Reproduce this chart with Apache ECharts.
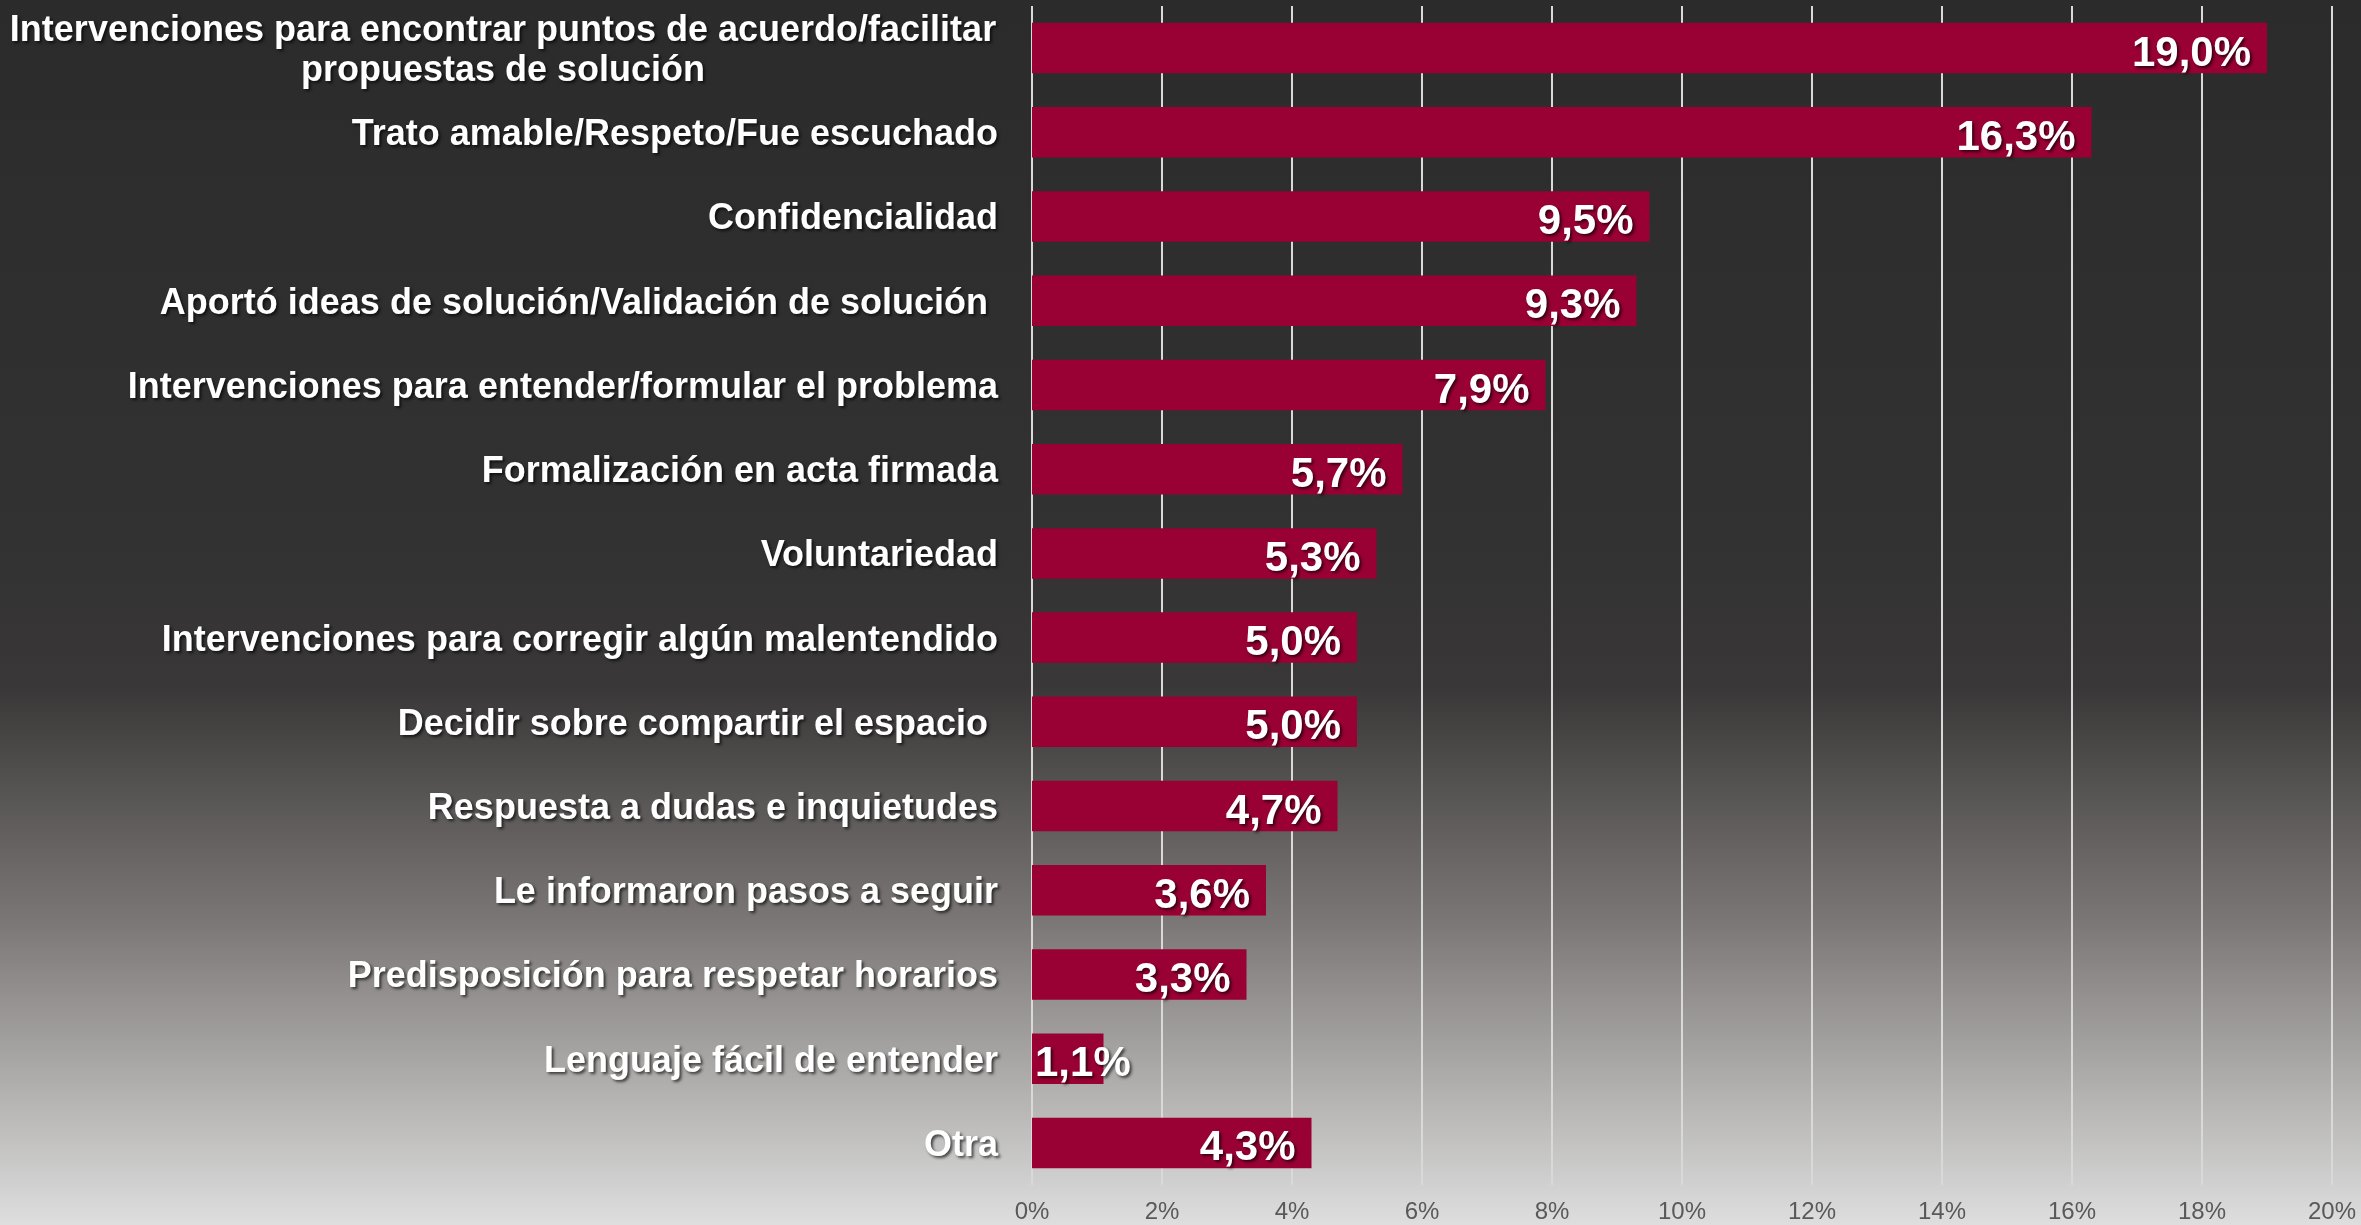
<!DOCTYPE html>
<html>
<head>
<meta charset="utf-8">
<script src="https://cdn.jsdelivr.net/npm/echarts@6/dist/echarts.min.js"></script>
<style>
html,body{margin:0;padding:0;width:2361px;height:1225px;overflow:hidden;}
#chart{width:2361px;height:1225px;}
</style>
</head>
<body>
<div id="chart"></div>
<script>
const categories = [
  'Intervenciones para encontrar puntos de acuerdo/facilitar\npropuestas de solución',
  'Trato amable/Respeto/Fue escuchado',
  'Confidencialidad',
  'Aportó ideas de solución/Validación de solución ',
  'Intervenciones para entender/formular el problema',
  'Formalización en acta firmada',
  'Voluntariedad',
  'Intervenciones para corregir algún malentendido',
  'Decidir sobre compartir el espacio ',
  'Respuesta a dudas e inquietudes',
  'Le informaron pasos a seguir',
  'Predisposición para respetar horarios',
  'Lenguaje fácil de entender',
  'Otra'
];
const values = [19.0, 16.3, 9.5, 9.3, 7.9, 5.7, 5.3, 5.0, 5.0, 4.7, 3.6, 3.3, 1.1, 4.3];
const tickMin = 0, tickMax = 20, tickStep = 2;

const FONT = '"Liberation Sans", Arial, sans-serif';
const shadow = {textShadowColor:'rgba(0,0,0,0.65)', textShadowBlur:3, textShadowOffsetX:2, textShadowOffsetY:2};

const chart = echarts.init(document.getElementById('chart'));
const seriesData = values.map(v => {
  const item = {value: v};
  if (v < 2) {
    item.label = {position: 'insideLeft', distance: 3};
  }
  return item;
});

chart.setOption({
  backgroundColor: {
    type: 'linear', x: 0, y: 0, x2: 0, y2: 1,
    colorStops: [
      {offset: 0, color: '#2b2b2b'},
      {offset: 0.45, color: '#333232'},
      {offset: 0.56, color: '#393737'},
      {offset: 0.75, color: '#7a7675'},
      {offset: 0.86, color: '#a6a4a3'},
      {offset: 1, color: '#dedede'}
    ]
  },
  animation: false,
  grid: {left: 1032, right: 29, top: 6, bottom: 40, containLabel: false},
  xAxis: {
    type: 'value', min: tickMin, max: tickMax, interval: tickStep,
    axisLine: {show: false}, axisTick: {show: false},
    splitLine: {show: true, lineStyle: {color: '#d9d9d9', width: 2}},
    axisLabel: {formatter: '{value}%', color: '#595959', fontSize: 24, fontFamily: FONT, margin: 15}
  },
  yAxis: {
    type: 'category', data: categories, inverse: true,
    axisLine: {show: false}, axisTick: {show: false},
    axisLabel: {
      margin: 34, color: '#ffffff', fontSize: 36, fontWeight: 'bold', fontFamily: FONT,
      padding: [6, 0, 0, 0],
      ...shadow,
      formatter: function (v) {
        if (v.indexOf('\n') >= 0) {
          return v.split('\n').map(l => '{c|' + l + '}').join('\n');
        }
        return v;
      },
      rich: {
        c: {width: 990, align: 'center', color: '#ffffff', fontSize: 36, fontWeight: 'bold', fontFamily: FONT, lineHeight: 40, ...shadow}
      }
    }
  },
  series: [{
    type: 'bar',
    data: seriesData,
    barCategoryGap: '40%',
    itemStyle: {color: '#990033'},
    label: {
      show: true, position: 'insideRight', distance: 16, offset: [0, 6],
      color: '#ffffff', fontSize: 42, fontWeight: 'bold', fontFamily: FONT,
      ...shadow,
      formatter: p => p.value.toFixed(1).replace('.', ',') + '%'
    }
  }]
});
</script>
</body>
</html>
